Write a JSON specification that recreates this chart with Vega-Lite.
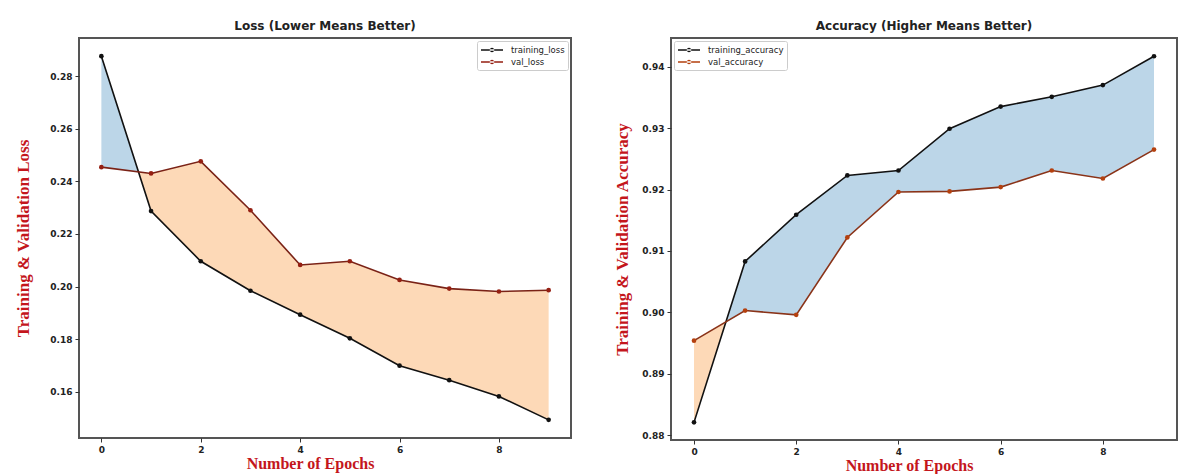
{
  "$schema": "https://vega.github.io/schema/vega-lite/v6.json",
  "padding": {"left": 13, "top": 19, "right": 0, "bottom": 0},
  "background": "white",
  "datasets": {
    "loss": [
      {"epoch": 0, "training_loss": 0.2876, "val_loss": 0.2454},
      {"epoch": 1, "training_loss": 0.2287, "val_loss": 0.2430},
      {"epoch": 2, "training_loss": 0.2096, "val_loss": 0.2476},
      {"epoch": 3, "training_loss": 0.1984, "val_loss": 0.2290},
      {"epoch": 4, "training_loss": 0.1893, "val_loss": 0.2082},
      {"epoch": 5, "training_loss": 0.1803, "val_loss": 0.2096},
      {"epoch": 6, "training_loss": 0.1699, "val_loss": 0.2025},
      {"epoch": 7, "training_loss": 0.1644, "val_loss": 0.1992},
      {"epoch": 8, "training_loss": 0.1582, "val_loss": 0.1981},
      {"epoch": 9, "training_loss": 0.1493, "val_loss": 0.1986}
    ],
    "loss_band": [
      {"epoch": 0, "training": 0.2876, "val": 0.2454, "region": "train_higher"},
      {"epoch": 0.747, "training": 0.2436, "val": 0.2436, "region": "train_higher"},
      {"epoch": 0.747, "training": 0.2436, "val": 0.2436, "region": "val_higher"},
      {"epoch": 1, "training": 0.2287, "val": 0.2430, "region": "val_higher"},
      {"epoch": 2, "training": 0.2096, "val": 0.2476, "region": "val_higher"},
      {"epoch": 3, "training": 0.1984, "val": 0.2290, "region": "val_higher"},
      {"epoch": 4, "training": 0.1893, "val": 0.2082, "region": "val_higher"},
      {"epoch": 5, "training": 0.1803, "val": 0.2096, "region": "val_higher"},
      {"epoch": 6, "training": 0.1699, "val": 0.2025, "region": "val_higher"},
      {"epoch": 7, "training": 0.1644, "val": 0.1992, "region": "val_higher"},
      {"epoch": 8, "training": 0.1582, "val": 0.1981, "region": "val_higher"},
      {"epoch": 9, "training": 0.1493, "val": 0.1986, "region": "val_higher"}
    ],
    "acc": [
      {"epoch": 0, "training_accuracy": 0.8821, "val_accuracy": 0.8954},
      {"epoch": 1, "training_accuracy": 0.9083, "val_accuracy": 0.9003},
      {"epoch": 2, "training_accuracy": 0.9159, "val_accuracy": 0.8996},
      {"epoch": 3, "training_accuracy": 0.9223, "val_accuracy": 0.9122},
      {"epoch": 4, "training_accuracy": 0.9231, "val_accuracy": 0.9196},
      {"epoch": 5, "training_accuracy": 0.9299, "val_accuracy": 0.9197},
      {"epoch": 6, "training_accuracy": 0.9335, "val_accuracy": 0.9204},
      {"epoch": 7, "training_accuracy": 0.9351, "val_accuracy": 0.9231},
      {"epoch": 8, "training_accuracy": 0.9370, "val_accuracy": 0.9218},
      {"epoch": 9, "training_accuracy": 0.9417, "val_accuracy": 0.9265}
    ],
    "acc_band": [
      {"epoch": 0, "training": 0.8821, "val": 0.8954, "region": "val_higher"},
      {"epoch": 0.624, "training": 0.8984, "val": 0.8984, "region": "val_higher"},
      {"epoch": 0.624, "training": 0.8984, "val": 0.8984, "region": "train_higher"},
      {"epoch": 1, "training": 0.9083, "val": 0.9003, "region": "train_higher"},
      {"epoch": 2, "training": 0.9159, "val": 0.8996, "region": "train_higher"},
      {"epoch": 3, "training": 0.9223, "val": 0.9122, "region": "train_higher"},
      {"epoch": 4, "training": 0.9231, "val": 0.9196, "region": "train_higher"},
      {"epoch": 5, "training": 0.9299, "val": 0.9197, "region": "train_higher"},
      {"epoch": 6, "training": 0.9335, "val": 0.9204, "region": "train_higher"},
      {"epoch": 7, "training": 0.9351, "val": 0.9231, "region": "train_higher"},
      {"epoch": 8, "training": 0.9370, "val": 0.9218, "region": "train_higher"},
      {"epoch": 9, "training": 0.9417, "val": 0.9265, "region": "train_higher"}
    ]
  },
  "config": {
    "view": {"stroke": "#555555", "strokeWidth": 2},
    "axis": {
      "domain": false,
      "grid": false,
      "tickColor": "#333333",
      "tickSize": 4,
      "tickWidth": 1,
      "labelFont": "DejaVu Sans",
      "labelFontSize": 9,
      "labelFontWeight": "bold",
      "labelColor": "#222222",
      "labelPadding": 3,
      "titleFont": "Liberation Serif",
      "titleFontWeight": "bold",
      "titleColor": "#c4161c"
    },
    "title": {"font": "DejaVu Sans", "fontSize": 12, "fontWeight": "bold", "color": "#222222", "offset": 5},
    "legend": {
      "labelFont": "DejaVu Sans",
      "labelFontSize": 8.5,
      "labelColor": "#222222",
      "fillColor": "white",
      "strokeColor": "#cccccc",
      "cornerRadius": 2,
      "padding": 3,
      "symbolType": "M-2.2,-0.14H2.2V0.14H-2.2Z M-0.45,0A0.45,0.45 0 1,0 0.45,0A0.45,0.45 0 1,0 -0.45,0Z",
      "symbolSize": 100,
      "symbolOffset": 6,
      "rowPadding": 1,
      "labelOffset": 13,
      "title": null
    }
  },
  "spacing": 40,
  "resolve": {"scale": {"color": "independent"}},
  "hconcat": [
    {
      "width": 492,
      "height": 400,
      "title": "Loss (Lower Means Better)",
      "layer": [
        {
          "data": {"name": "loss_band"},
          "transform": [{"filter": "datum.region === 'train_higher'"}],
          "mark": {"type": "area", "color": "#bcd6e8", "opacity": 1},
          "encoding": {
            "x": {"field": "epoch", "type": "quantitative"},
            "y": {"field": "training", "type": "quantitative"},
            "y2": {"field": "val"}
          }
        },
        {
          "data": {"name": "loss_band"},
          "transform": [{"filter": "datum.region === 'val_higher'"}],
          "mark": {"type": "area", "color": "#fdd9b7", "opacity": 1},
          "encoding": {
            "x": {"field": "epoch", "type": "quantitative"},
            "y": {"field": "training", "type": "quantitative"},
            "y2": {"field": "val"}
          }
        },
        {
          "data": {"name": "loss"},
          "mark": {"type": "line", "strokeWidth": 1.6, "color": "#111111"},
          "encoding": {
            "x": {"field": "epoch", "type": "quantitative"},
            "y": {"field": "training_loss", "type": "quantitative"}
          }
        },
        {
          "data": {"name": "loss"},
          "mark": {"type": "line", "strokeWidth": 1.6, "color": "#7a2216"},
          "encoding": {
            "x": {"field": "epoch", "type": "quantitative"},
            "y": {"field": "val_loss", "type": "quantitative"}
          }
        },
        {
          "data": {"name": "loss"},
          "transform": [{"fold": ["training_loss", "val_loss"], "as": ["series", "value"]}],
          "mark": {"type": "point", "filled": true, "size": 22, "opacity": 1},
          "encoding": {
            "x": {"field": "epoch", "type": "quantitative", "scale": {"domain": [-0.45, 9.45], "nice": false, "zero": false}, "axis": {"values": [0, 2, 4, 6, 8], "title": "Number of Epochs", "titleFontSize": 16, "titlePadding": 1, "titleX": 231}},
            "y": {"field": "value", "type": "quantitative", "scale": {"domain": [0.1424, 0.2945], "nice": false, "zero": false}, "axis": {"values": [0.16, 0.18, 0.20, 0.22, 0.24, 0.26, 0.28], "format": ".2f", "title": "Training & Validation Loss", "titleFontSize": 17, "titlePadding": 17}},
            "color": {"field": "series", "type": "nominal", "scale": {"domain": ["training_loss", "val_loss"], "range": ["#111111", "#951f12"]}, "legend": {"orient": "top-right", "offset": 3}}
          }
        }
      ]
    },
    {
      "width": 506,
      "height": 402,
      "title": "Accuracy (Higher Means Better)",
      "layer": [
        {
          "data": {"name": "acc_band"},
          "transform": [{"filter": "datum.region === 'train_higher'"}],
          "mark": {"type": "area", "color": "#bcd6e8", "opacity": 1},
          "encoding": {
            "x": {"field": "epoch", "type": "quantitative"},
            "y": {"field": "training", "type": "quantitative"},
            "y2": {"field": "val"}
          }
        },
        {
          "data": {"name": "acc_band"},
          "transform": [{"filter": "datum.region === 'val_higher'"}],
          "mark": {"type": "area", "color": "#fdd9b7", "opacity": 1},
          "encoding": {
            "x": {"field": "epoch", "type": "quantitative"},
            "y": {"field": "training", "type": "quantitative"},
            "y2": {"field": "val"}
          }
        },
        {
          "data": {"name": "acc"},
          "mark": {"type": "line", "strokeWidth": 1.6, "color": "#111111"},
          "encoding": {
            "x": {"field": "epoch", "type": "quantitative"},
            "y": {"field": "training_accuracy", "type": "quantitative"}
          }
        },
        {
          "data": {"name": "acc"},
          "mark": {"type": "line", "strokeWidth": 1.6, "color": "#8a3318"},
          "encoding": {
            "x": {"field": "epoch", "type": "quantitative"},
            "y": {"field": "val_accuracy", "type": "quantitative"}
          }
        },
        {
          "data": {"name": "acc"},
          "transform": [{"fold": ["training_accuracy", "val_accuracy"], "as": ["series", "value"]}],
          "mark": {"type": "point", "filled": true, "size": 22, "opacity": 1},
          "encoding": {
            "x": {"field": "epoch", "type": "quantitative", "scale": {"domain": [-0.45, 9.45], "nice": false, "zero": false}, "axis": {"values": [0, 2, 4, 6, 8], "title": "Number of Epochs", "titleFontSize": 16, "titlePadding": 1, "titleX": 238}},
            "y": {"field": "value", "type": "quantitative", "scale": {"domain": [0.87923, 0.94467], "nice": false, "zero": false}, "axis": {"values": [0.88, 0.89, 0.90, 0.91, 0.92, 0.93, 0.94], "format": ".2f", "title": "Training & Validation Accuracy", "titleFontSize": 17, "titlePadding": 10}},
            "color": {"field": "series", "type": "nominal", "scale": {"domain": ["training_accuracy", "val_accuracy"], "range": ["#111111", "#b4400e"]}, "legend": {"orient": "top-left", "offset": 3}}
          }
        }
      ]
    }
  ]
}
